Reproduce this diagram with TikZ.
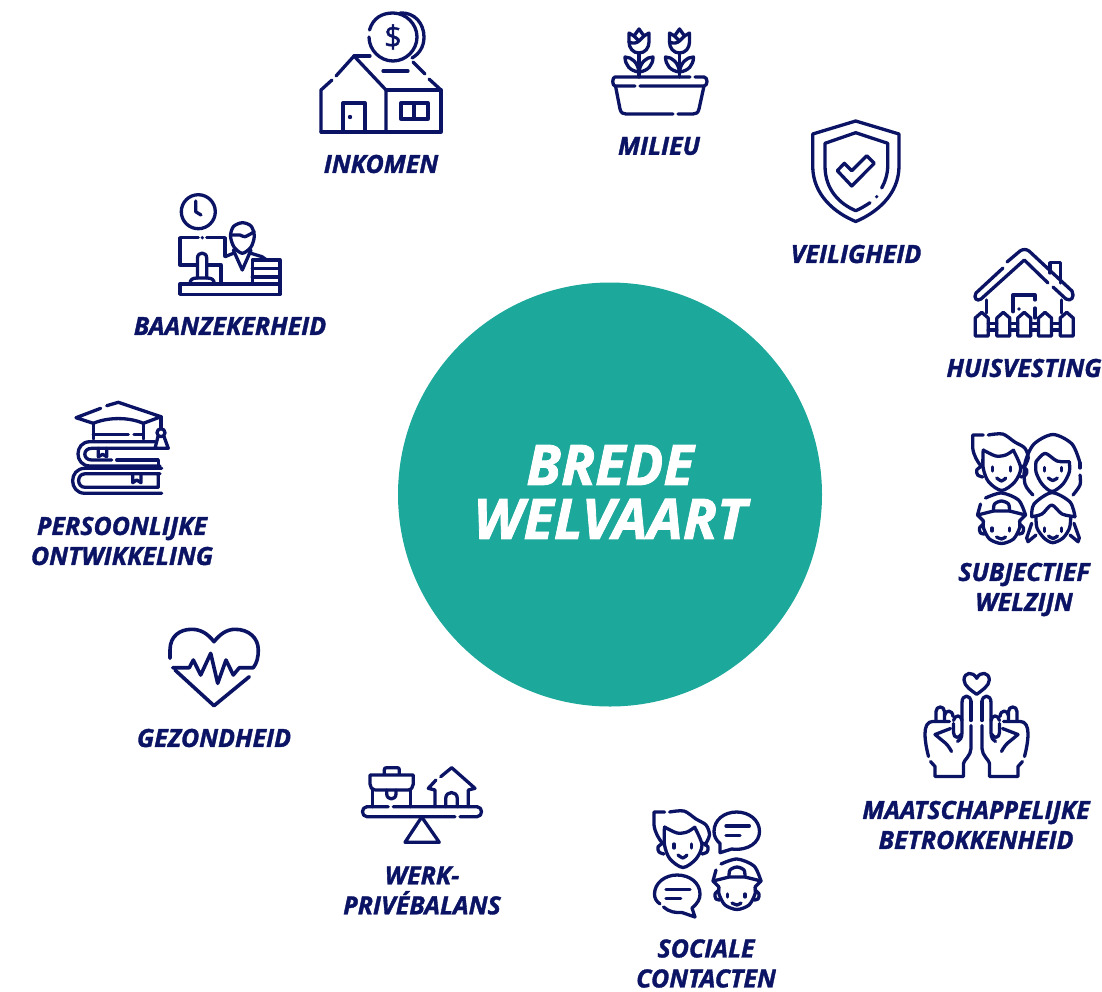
\documentclass[tikz,border=0pt]{standalone}
\usepackage{fontspec}
\setmainfont{Open Sans}[BoldItalicFeatures={FakeBold=1.4}]
\definecolor{navy}{HTML}{0B1464}
\definecolor{teal}{HTML}{1CA89A}
\tikzset{
  icon/.style={draw=navy,line width=3.3pt,line cap=round,line join=round,fill=none},
  lbl/.style={text=navy,align=center,inner sep=0pt,font=\fontsize{25}{30}\selectfont\bfseries\itshape},
  biglbl/.style={text=white,align=center,inner sep=0pt,font=\fontsize{56}{54}\selectfont\bfseries\itshape},
  tulip/.pic={
    \draw[icon] (-10,-44) -- (-5,-41) -- (0,-48) -- (5,-41) -- (10,-44) -- (10,-35) .. controls (10,-29) and (6,-24) .. (0,-24) .. controls (-6,-24) and (-10,-29) .. (-10,-35) -- cycle;
    \draw[icon] (-5,-41) -- (0,-36) -- (5,-41);
    \draw[icon] (-10,-35) .. controls (-6,-33) and (-2,-34) .. (0,-36);
    \draw[icon] (0,-24) -- (0,0);
    \draw[icon] (0,-5) .. controls (-9,-6) and (-14,-12) .. (-14,-20) .. controls (-7,-20) and (-1,-14) .. (0,-5);
    \draw[icon] (0,-5) .. controls (9,-6) and (14,-12) .. (14,-20) .. controls (7,-20) and (1,-14) .. (0,-5);
  },
  boyhead/.pic={
    \draw[icon] (-18.4,-35) -- (-29,-35) -- (-29,-22) .. controls (-28,-14) and (-24,-8) .. (-20,-3);
    \draw[icon] plot[smooth] coordinates {(-13.4,-35) (1,-36) (13,-28) (23,-22) (26.5,-12) (22,-2)};
    \draw[icon] plot[smooth] coordinates {(-18.5,-20) (-18.5,-2) (-13,12) (0,20.5) (13,12) (19,-2) (12,-19)};
    \draw[icon] plot[smooth] coordinates {(-18.5,-20) (-6,-14) (4,-15) (12,-20)};
    \draw[icon] plot[smooth] coordinates {(-20,-4) (-25,0) (-24,5) (-19,7)};
    \draw[icon] plot[smooth] coordinates {(20,-4) (25,0) (24,5) (19,7)};
    \draw[icon] (-9,-3) -- (-9,1);
    \draw[icon] (8.5,-3) -- (8.5,1);
    \draw[icon] plot[smooth] coordinates {(-5,8) (0,11) (4,8)};
  },
  capkid/.pic={
    \draw[icon] (-23,-15) -- (-20,-26);
    \draw[icon] plot[smooth] coordinates {(-15,-32) (1,-37) (18,-30) (25,-15)};
    \draw[icon] (-23,-15) -- (-7,-19) -- (9,-19) -- (25,-15);
    \draw[icon] (-23,-15) -- (-17,-9);
    \draw[icon] (25,-15) -- (19,-9);
    \draw[icon] plot[smooth] coordinates {(-7,-19) (-6,-26) (1,-29) (8,-26) (9,-19)};
    \draw[icon] plot[smooth] coordinates {(-17,-9) (-17,-2) (-11,9) (1,13.5) (13,9) (19,-2) (19,-9)};
    \draw[icon] plot[smooth] coordinates {(-17,-6) (-21,-2) (-20,3) (-16,4)};
    \draw[icon] plot[smooth] coordinates {(19,-6) (23,-2) (22,3) (18,4)};
    \draw[icon] (-8.5,-2) -- (-8.5,1);
    \draw[icon] (9,-2) -- (9,1);
    \draw[icon] plot[smooth] coordinates {(-4,7) (1,9) (5,7)};
  },
  handmaat/.pic={
    \draw[icon] (-5.5,24) -- (-5.5,5);
    \draw[icon] (-5.5,6) .. controls (-5.5,-2.5) and (-14.5,-2.5) .. (-14.5,6) -- (-14.5,36) .. controls (-14.5,42) and (-17,44) .. (-19,45);
    \draw[icon] (-5.5,29) -- (-5.5,52) .. controls (-5.5,59) and (-13,64) .. (-13,67) -- (-13,80) -- (-41.5,80) -- (-41.5,70) -- (-46,65);
    \draw[icon] (-48,60) .. controls (-50,52) and (-51.5,45) .. (-51.5,37) .. controls (-51.5,30) and (-49,25) .. (-44,25) -- (-27,25);
    \draw[icon] (-40.5,25) -- (-40.5,15) .. controls (-40.5,9) and (-32,9) .. (-32,15) -- (-32,25);
    \draw[icon] (-32,19) .. controls (-31,13) and (-24,13) .. (-23.5,20);
    \draw[icon] (-23,27) -- (-23,36) .. controls (-23,42) and (-17,42) .. (-15.5,38);
    \draw[icon] (-23,24) .. controls (-22,18) and (-15,18) .. (-14.5,24);
    \draw[icon] (-26,32) -- (-41.5,38) -- (-33,45) .. controls (-30,47) and (-27,51) .. (-25,55);
  }
}
\begin{document}
\begin{tikzpicture}[x=1pt,y=-1pt]
  \useasboundingbox (0,0) rectangle (1102,991);
  \node[circle,fill=teal,minimum size=424pt,inner sep=0pt] (centre) at (610,494.5) {};
  \node[biglbl] (brede) at (610,492) {BREDE\\WELVAART};

  \draw[icon] (321,132) -- (441,132) -- (441,90) -- (386,90);
  \draw[icon] (321,132) -- (321,90) -- (332,80);
  \draw[icon] (336,76) -- (354,56) -- (386,90) -- (386,132);
  \draw[icon] (354,56) -- (370,56);
  \draw[icon] (413,62) -- (425,74);
  \draw[icon] (429,79) -- (441,90);
  \draw[icon] (383,71) -- (408,71);
  \draw[icon] (369.5,30) .. controls (373,18) and (382,13) .. (393,13) .. controls (406,13) and (417,24) .. (417,37) .. controls (417,50) and (406,61) .. (393,61) .. controls (380,61) and (369,50) .. (369,37);
  \draw[icon] (400,13) .. controls (415,12) and (424,24) .. (424,37) .. controls (424,47) and (419,54) .. (412,58);
  \node[text=navy,inner sep=0pt,font=\fontsize{31}{31}\selectfont\addfontfeature{FakeBold=1}] (dollar) at (393,37) {\$};
  \draw[icon] (343,132) -- (343,103) -- (365,103) -- (365,132);
  \fill[navy] (350,117) circle (2.2);
  \draw[icon] (401,103) rectangle (428,119);
  \draw[icon] (414,103) -- (414,119);
  \node[lbl] (inkomen) at (381,164) {INKOMEN};

  \draw[icon] (690,77) -- (615,77) .. controls (612,77) and (612,86) .. (615,86) -- (635,86);
  \draw[icon] (695,77) -- (704,77) .. controls (708,77) and (708,86) .. (704,86) -- (640,86);
  \draw[icon] (615.5,86) -- (620,109) .. controls (621,113) and (623,114) .. (626,114) -- (673,114);
  \draw[icon] (678,114) -- (693,114) .. controls (696,114) and (698,113) .. (699,109) -- (704,86);
  \pic at (639,77) {tulip};
  \pic at (679.5,77) {tulip};
  \node[lbl] (milieu) at (659,146) {MILIEU};

  \draw[icon] (855.7,121) -- (812.7,134) -- (812.7,166) .. controls (812.7,195) and (835,213) .. (855.7,221.5) .. controls (876,213) and (899,195) .. (899,166) -- (899,134) -- cycle;
  \draw[icon] (870,202.7) .. controls (865,206) and (860,209) .. (855.7,210.7) .. controls (840,204) and (825,190) .. (825,166) -- (825,143.3) -- (855.7,132.7) -- (887.7,143.3) -- (887.7,166) .. controls (887.7,174) and (885,182) .. (881.7,188);
  \fill[navy] (876.7,196.7) circle (1.8);
  \draw[icon] (837.3,170.7) -- (844.3,163.3) -- (851.7,170.7) -- (866.7,155.7) -- (874.3,163.3) -- (851.7,186) -- cycle;
  \node[lbl] (veiligheid) at (856,254) {VEILIGHEID};

  \draw[icon] (1003,268) -- (976,293) .. controls (973,298) and (977,302) .. (981,299) -- (1024.3,260) -- (1048,283);
  \draw[icon] (1007,262) -- (1020,251) .. controls (1023,249) and (1026,249) .. (1029,251) -- (1072,291) .. controls (1075,297) and (1071,302) .. (1066,299) -- (1053,287);
  \draw[icon] (1050,273) -- (1050,262.7) -- (1060.7,262.7) -- (1060.7,283);
  \draw[icon] (986.7,300) -- (986.7,313);
  \draw[icon] (1061.7,300) -- (1061.7,313);
  \draw[icon] (1013,311.7) -- (1013,295) -- (1035,295) -- (1035,300);
  \draw[icon] (1035,308) -- (1035,318);
  \fill[navy] (1019,309) circle (1.8);
  \foreach \fx in {981.7,1003.3,1024.2,1045,1066.7}{
    \draw[icon] (\fx-6.5,336) -- (\fx-6.5,318) -- (\fx,312.3) -- (\fx+6.5,318) -- (\fx+6.5,336) -- cycle;
  }
  \foreach \fx/\gx in {988.2/996.8,1009.8/1017.7,1030.7/1038.5,1051.5/1060.2}{
    \draw[icon] (\fx,323.5) -- (\gx,323.5);
    \draw[icon] (\fx,330) -- (\gx,330);
  }
  \node[lbl] (huisvesting) at (1024,368) {HUISVESTING};

  \pic at (1001.7,470) {boyhead};
  \draw[icon] plot[smooth] coordinates {(1033,495) (1025,484) (1025,463) (1034,444) (1053,434.5) (1072,444) (1080,463)};
  \draw[icon] (1080,463) -- (1080,468);
  \draw[icon] plot[smooth] coordinates {(1080,475) (1080,485) (1073,495)};
  \draw[icon] plot[smooth] coordinates {(1036,461.7) (1045,453.3) (1057,461) (1069.3,461.7)};
  \draw[icon] plot[smooth] coordinates {(1036,461.7) (1036,472) (1042,484) (1052,491.5) (1063,484) (1069.3,472) (1069.3,461.7)};
  \draw[icon] (1044.3,467.5) -- (1044.3,471);
  \draw[icon] (1061.7,467.5) -- (1061.7,471);
  \draw[icon] plot[smooth] coordinates {(1048.3,478) (1053,480.5) (1057.3,478)};
  \pic at (1000.5,530) {capkid};
  \draw[icon] plot[smooth] coordinates {(1031.7,516.7) (1034,504) (1051.7,492.7) (1070,502) (1075,516.7)};
  \draw[icon] plot[smooth] coordinates {(1031.7,516.7) (1042,514) (1051.7,505) (1062,514) (1075,516.7)};
  \draw[icon] plot[smooth] coordinates {(1036,517) (1037,528) (1044,538) (1052.7,542.7) (1063,538) (1069.5,528) (1070.7,517)};
  \draw[icon] (1031.7,523.3) -- (1026.7,538) -- (1028,541.7) -- (1036,535);
  \draw[icon] (1074,523.3) -- (1079.3,538) -- (1078,541.7) -- (1070,535);
  \draw[icon] (1044.3,528) -- (1044.3,531.5);
  \draw[icon] (1061.7,528) -- (1061.7,531.5);
  \draw[icon] plot[smooth] coordinates {(1048.5,536) (1053,538.5) (1057.5,536)};
  \node[lbl] (subjectief) at (1024,589.5) {SUBJECTIEF\\WELZIJN};

  \draw[icon] (976.7,678.3) .. controls (973,671) and (964,672) .. (964,680) .. controls (964,686) and (972,691) .. (976.7,694.3) .. controls (981,691) and (989.3,686) .. (989.3,680) .. controls (989.3,672) and (980,671) .. (976.7,678.3) -- cycle;
  \pic at (976.5,696.5) {handmaat};
  \pic[xscale=-1] at (976.5,696.5) {handmaat};
  \node[lbl] (maatschappelijke) at (976,825) {MAATSCHAPPELIJKE\\BETROKKENHEID};

  \pic at (683,847) {boyhead};
  \draw[icon] (731.7,849) .. controls (749,851) and (759.5,842) .. (759.5,831.5) .. controls (759.5,820) and (749,812) .. (736.7,812) .. controls (724,812) and (714,820) .. (714,831.5) .. controls (714,836) and (716,840) .. (720,843.5) -- (720,852.7) -- cycle;
  \draw[icon] (726,826) -- (749.3,826);
  \draw[icon] (726,835.7) -- (740,835.7);
  \draw[icon] (660,904) .. controls (656,901) and (654.5,898) .. (654.5,894) .. controls (654.5,883) and (665,875) .. (677,875) .. controls (690,875) and (700,883) .. (700,894) .. controls (700,899) and (698,903) .. (692,908) -- (695,917) -- (682,912.5) .. controls (676,913) and (669,912) .. (663.5,907);
  \draw[icon] (666,889.3) -- (690,889.3);
  \draw[icon] (666,898.7) -- (680.7,898.7);
  \pic at (736,896) {capkid};
  \node[lbl] (sociale) at (706,963.5) {SOCIALE\\CONTACTEN};

  \draw[icon] (388.3,806.7) -- (367,806.7) .. controls (361,806.7) and (361,816.7) .. (367,816.7) -- (455,816.7);
  \draw[icon] (393.3,806.7) -- (477,806.7) .. controls (483,806.7) and (483,816.7) .. (477,816.7) -- (460,816.7);
  \draw[icon] (421.7,817) -- (405,842.3) -- (439.3,842.3) -- cycle;
  \draw[icon] (372.7,806.7) -- (372.7,790);
  \draw[icon] (410.7,806.7) -- (410.7,790);
  \draw[icon] (375,790) -- (408,790) .. controls (411,790) and (413.3,787) .. (413.3,784) -- (413.3,775) -- (370,775) -- (370,784) .. controls (370,787) and (372,790) .. (375,790);
  \draw[icon] (384.3,774) -- (384.3,770) .. controls (384.3,768) and (385,767.7) .. (387,767.7) -- (397,767.7) .. controls (399,767.7) and (399.3,768) .. (399.3,770) -- (399.3,774);
  \draw[icon] (386.7,790) -- (386.7,794) .. controls (387,800.5) and (395.7,800.5) .. (396,794) -- (396,790);
  \draw[icon] (435,806.7) -- (435,790) -- (428.3,788.3) -- (436,780);
  \draw[icon] (440.7,776.7) -- (451.7,767.7) -- (475,788.3) -- (468.3,790) -- (468.3,806.7);
  \draw[icon] (445.7,806.7) -- (445.7,798.5) .. controls (445.7,790.5) and (457.3,790.5) .. (457.3,798.5) -- (457.3,806.7);
  \node[lbl] (werk) at (422,890.5) {WERK-\\PRIVÉBALANS};

  \draw[icon,line width=3.6pt] (170,658.3) -- (170,650) .. controls (170,636) and (180,629.3) .. (191.7,629.3) .. controls (201,629.3) and (208,634) .. (214,641.7) .. controls (220,634) and (227,629.3) .. (235,629.3) .. controls (249,629.3) and (258.3,638) .. (258.3,650) .. controls (258.3,657) and (257,663) .. (253.3,667.7) -- (239.3,667.7) -- (233.3,675) -- (226,660) -- (217.7,683.3) -- (210.7,653.3) -- (200.7,675) -- (193.3,660) -- (189.3,667.7) -- (172.7,667.7);
  \draw[icon,line width=3.6pt] (175,670) -- (214,705.7) -- (249.3,676.7);
  \node[lbl] (gezondheid) at (214,738) {GEZONDHEID};

  \draw[icon] (100.7,408.3) -- (76,417.7) -- (93.3,423.3) .. controls (108,417) and (129,417) .. (143.3,423.3) -- (161,416.7) -- (118.3,402.3) -- (106.7,405.7);
  \draw[icon] (93.3,423.3) -- (93.3,439);
  \draw[icon] (143.3,423.3) -- (143.3,439);
  \draw[icon] (93.3,434.3) -- (128.3,434.3);
  \draw[icon] (134,434.3) -- (143.3,434.3);
  \draw[icon] (161,416.7) -- (161,428.3);
  \draw[icon] (161,432.7) circle (4);
  \draw[icon] (158,436.5) -- (155,448.3) -- (168.3,448.3) -- (164,436.5);
  \draw[icon] (155,441.7) -- (90,441.7) .. controls (74,441.7) and (74,466) .. (90,466) -- (160,466);
  \draw[icon] (154.3,448.3) -- (91.7,448.3) .. controls (82.5,448.3) and (82.5,460) .. (91.7,460) -- (111.7,460);
  \draw[icon] (116.7,460) -- (158.3,460) -- (158.3,466);
  \draw[icon] (98.3,448.3) -- (98.3,456.7) -- (102.7,454.3) -- (106.7,456.7) -- (106.7,448.3);
  \draw[icon] (161.7,468.3) -- (85,468.3) .. controls (68.5,468.3) and (68.5,493.3) .. (85,493.3) -- (161.7,493.3);
  \draw[icon] (160,473.8) -- (85,473.8) .. controls (76.5,473.8) and (76.5,487.3) .. (85,487.3) -- (158.3,487.3) -- (158.3,473.8);
  \draw[icon] (132.7,473.8) -- (132.7,482.7) -- (136.7,480) -- (141,482.7) -- (141,473.8);
  \node[lbl] (persoonlijke) at (122,541) {PERSOONLIJKE\\ONTWIKKELING};

  \draw[icon] (198.3,211.7) circle (17);
  \draw[icon] (195.7,201) -- (195.7,211.7) -- (201,215);
  \draw[icon] (198.3,237.7) -- (180,237.7) -- (180,265) -- (195.7,265);
  \fill[navy] (202.3,237.7) circle (1.8);
  \draw[icon] (206.7,237.7) -- (225,237.7) -- (225,256);
  \draw[icon] (208.3,265) -- (221,265) -- (221,283.3);
  \draw[icon] (197.5,278) -- (197.5,258) .. controls (197.5,251.5) and (206.7,251.5) .. (206.7,258) -- (206.7,278);
  \draw[icon] (190,284) .. controls (190,279) and (193,278) .. (197.5,278) -- (206.7,278) .. controls (211,278) and (214.3,279) .. (214.3,284);
  \draw[icon] plot[smooth cycle] coordinates {(230.5,236) (233.5,226.5) (242.3,222.7) (251,226) (254.3,236) (251,247) (242.3,253.3) (234,247)};
  \draw[icon] plot[smooth] coordinates {(230.7,235) (240,235) (245,236.7) (254.3,231.7)};
  \draw[icon] (233.3,250) -- (242.3,270) -- (251,250);
  \draw[icon] (233.3,253.3) -- (225,256.7);
  \draw[icon] (251,253.3) -- (262,256.7) -- (266.7,260);
  \draw[icon] (252.3,283.3) -- (252.3,260) -- (280,260) -- (280,294.3);
  \draw[icon] (252.3,268.5) -- (280,268.5);
  \draw[icon] (252.3,277) -- (280,277);
  \draw[icon] (180,284) rectangle (280,294.3);
  \node[lbl] (baanzekerheid) at (230,326) {BAANZEKERHEID};
\end{tikzpicture}
\end{document}
